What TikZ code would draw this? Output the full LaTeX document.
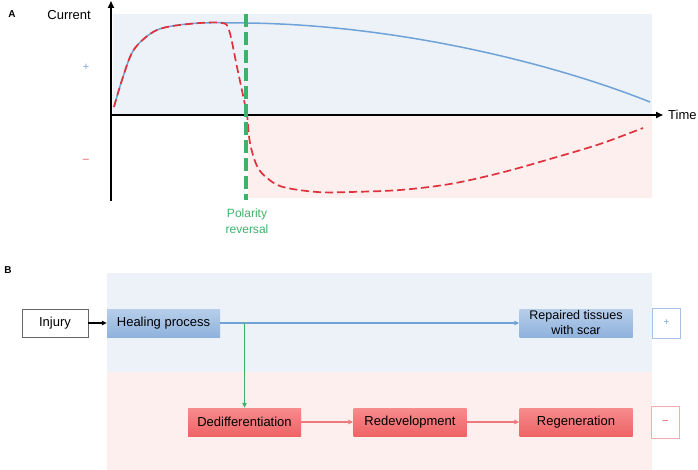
\documentclass[tikz,border=0pt]{standalone}
\usepackage{fontspec}
\setmainfont{Liberation Sans}
\usetikzlibrary{arrows.meta}
\definecolor{bgblue}{HTML}{EDF2F8}
\definecolor{bgpink}{HTML}{FDEFEE}
\definecolor{curveblue}{HTML}{6FA3D8}
\definecolor{curvered}{HTML}{E0323C}
\definecolor{polgreen}{HTML}{3DB36A}
\definecolor{boxbluetop}{HTML}{B7CEEA}
\definecolor{boxbluebot}{HTML}{8FB2DD}
\definecolor{boxredtop}{HTML}{F68C8C}
\definecolor{boxredbot}{HTML}{EE6366}
\definecolor{linkred}{HTML}{EE7A7C}
\definecolor{signblue}{HTML}{7FA7D9}
\definecolor{signred}{HTML}{E5484D}
\tikzset{
  bluebox/.style={top color=boxbluetop, bottom color=boxbluebot, draw=none, minimum width=113pt, minimum height=28pt, inner sep=1pt, align=center},
  redbox/.style={top color=boxredtop, bottom color=boxredbot, draw=none, minimum width=113pt, minimum height=28pt, inner sep=1pt, align=center},
  whitebox/.style={fill=white, draw=black!60, line width=0.6pt, minimum width=66pt, minimum height=28pt, inner sep=1pt},
  signbox/.style={fill=white, line width=0.7pt, minimum width=28pt, minimum height=30pt, inner sep=1pt, font=\fontsize{10}{12}\selectfont},
  axis/.style={line width=1.6pt, -{Triangle[length=7pt,width=6pt]}},
  tip/.style={-{Triangle[length=5pt,width=4.5pt]}},
  lbl/.style={inner sep=0pt}
}
\begin{document}
\begin{tikzpicture}[x=1pt,y=-1pt, font=\fontsize{13}{15}\selectfont]
\useasboundingbox (0,0) rectangle (698,470);
% ---------- Panel A ----------
\fill[bgblue] (113,14) rectangle (652,115);
\fill[bgpink] (248,116) rectangle (652,198);
\node[lbl, font=\fontsize{10}{12}\selectfont\bfseries] (la) at (12,14) {A};
\coordinate (ybot) at (111,201);
\coordinate (ytop) at (111,1);
\coordinate (xl) at (110,115);
\coordinate (xr) at (663,115);
\draw[axis] (ybot) -- (ytop);
\draw[axis] (xl) -- (xr);
\node[lbl, anchor=east] (cur) at (91,15) {Current};
\node[lbl, anchor=west] (time) at (668,115) {Time};
\node[lbl, text=signblue, font=\fontsize{11}{12}\selectfont] (plus) at (86,67) {+};
\node[lbl, text=signred, font=\fontsize{11}{12}\selectfont] (minus) at (86,161) {\textendash};
% blue curve
\draw[curveblue, line width=1.5pt] plot[smooth, tension=0.55] coordinates {
  (114,107) (122,80) (133,51) (150,34) (167,27) (200,23) (247,23)}
  .. controls (400,25) and (555,64) .. (650,102);
% red dashed curve
\draw[curvered, line width=1.7pt, dash pattern=on 8pt off 4pt] plot[smooth, tension=0.55] coordinates {
  (114,107) (122,80) (133,51) (150,34) (167,27) (200,23) (222,23) (229,30) (237,67) (244,100) (247,115) (250,143) (257,166) (267,178) (283,187) (317,192) (350,192) (400,190) (450,184) (500,173) (550,159) (600,144) (643,128)};
% polarity reversal line
\coordinate (gtop) at (246,14);
\coordinate (gbot) at (246,200);
\draw[polgreen, line width=3.5pt, dash pattern=on 13pt off 5pt] (gtop) -- (gbot);
\node[lbl, text=polgreen, align=center, font=\fontsize{12}{16}\selectfont] (pol) at (247,221) {Polarity\\reversal};
% ---------- Panel B ----------
\fill[bgblue] (107,273) rectangle (652,372);
\fill[bgpink] (107,372) rectangle (652,470);
\node[lbl, font=\fontsize{10}{12}\selectfont\bfseries] (lb) at (8,270) {B};
\node[whitebox] (inj) at (55,323) {Injury};
\node[bluebox] (heal) at (163.5,323) {Healing process};
\node[bluebox, font=\fontsize{12.5}{15}\selectfont] (rep) at (576,323) {Repaired tissues\\with scar};
\node[signbox, draw=signblue!70, text=signblue] (sp) at (666.5,323) {+};
\node[redbox] (ded) at (244.5,422) {Dedifferentiation};
\node[redbox] (red) at (410,422) {Redevelopment};
\node[redbox] (reg) at (576,422) {Regeneration};
\node[signbox, draw=signred!45, text=signred, minimum height=32pt] (sm) at (665.5,422) {\textendash};
\draw[tip, line width=1.6pt, black] (inj) -- (heal);
\draw[tip, line width=1.6pt, curveblue] (heal) -- (rep);
\coordinate (gs) at (244.5,323);
\draw[tip, line width=1.6pt, polgreen] (gs) -- (ded);
\draw[tip, line width=1.6pt, linkred] (ded) -- (red);
\draw[tip, line width=1.6pt, linkred] (red) -- (reg);
\end{tikzpicture}
\end{document}
